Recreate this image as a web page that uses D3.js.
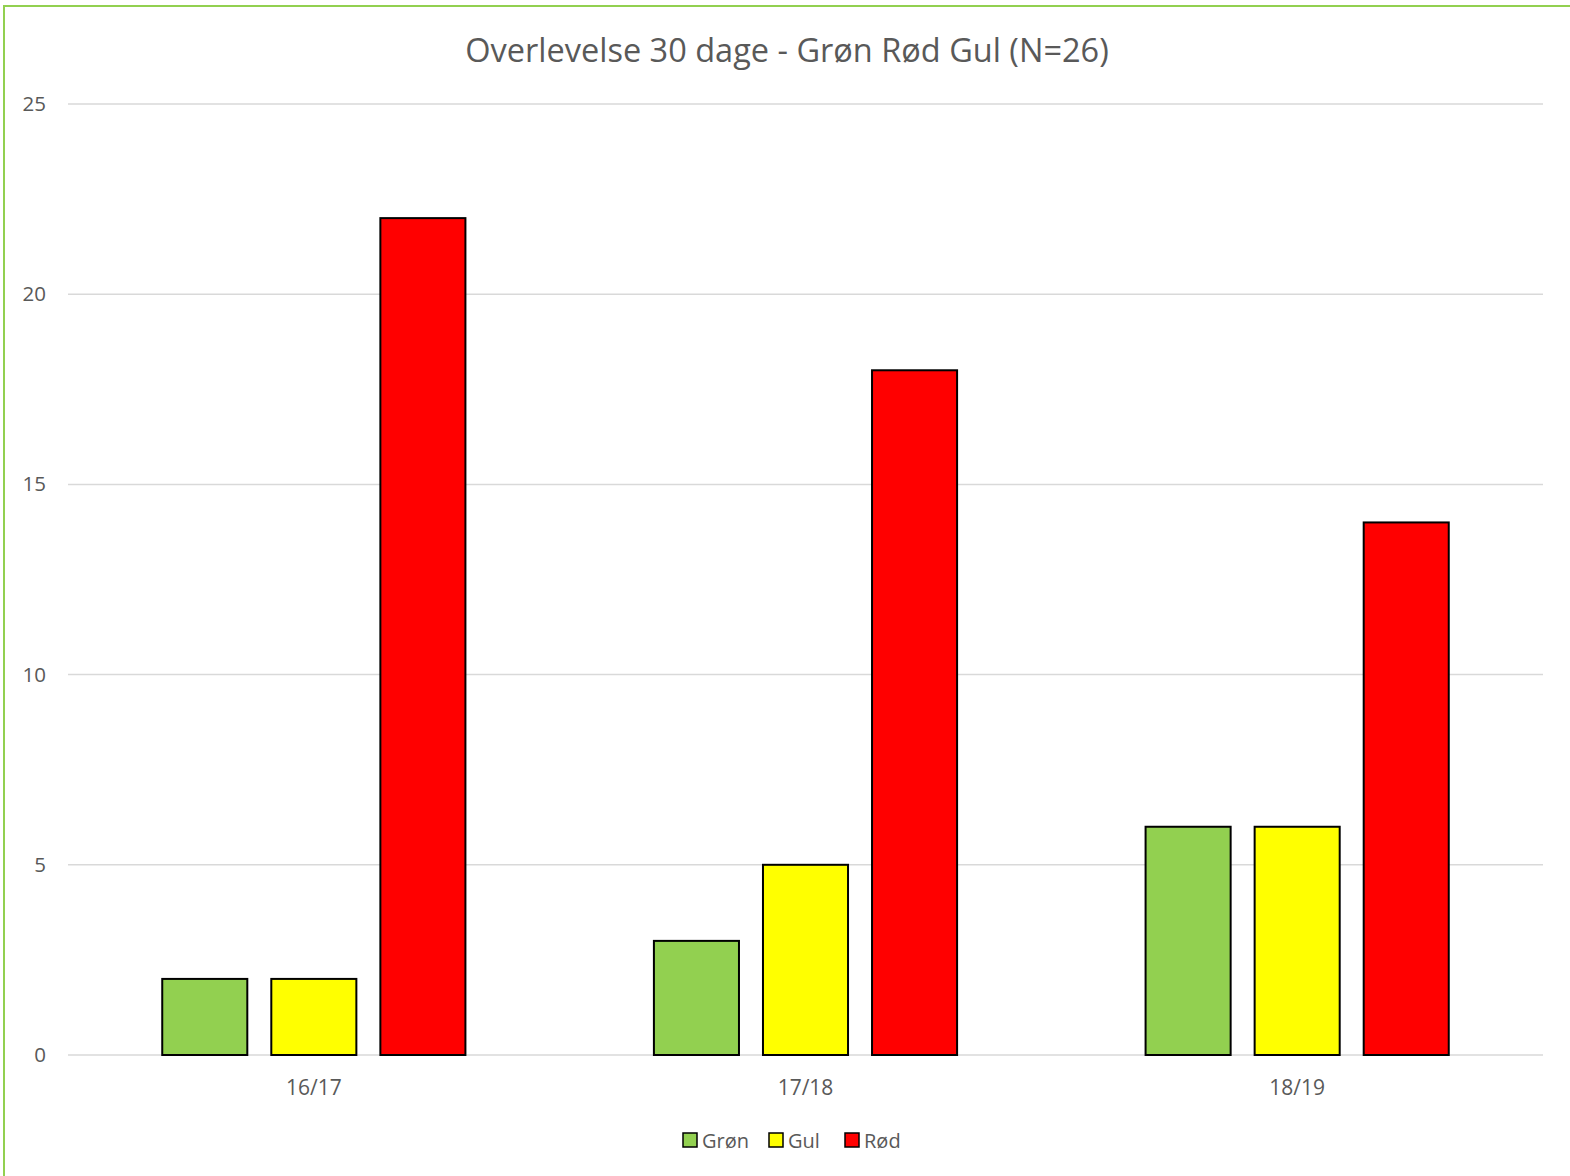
<!DOCTYPE html>
<html><head><meta charset="utf-8">
<script src="https://cdn.jsdelivr.net/npm/d3@7"></script>
<style>body{margin:0;background:#fff;} svg{display:block;}</style>
</head><body>
<script>
const categories = ["16/17", "17/18", "18/19"];
const seriesNames = ["Grøn", "Gul", "Rød"];
const gronValues = [2, 3, 6];
const gulValues = [2, 5, 6];
const rodValues = [22, 18, 14];
const yTicks = [0, 5, 10, 15, 20, 25];
const titleText = "Overlevelse 30 dage - Grøn Rød Gul (N=26)";
const seriesColors = ["#92D050", "#FFFF00", "#FF0000"];

(function () {
const W = 1570, H = 1176;
const svg = d3.select("body").append("svg").attr("width", W).attr("height", H);
const font = "'Open Sans', 'Liberation Sans', sans-serif";
const textColor = "#595959";

// border
svg.append("rect").attr("x", 4).attr("y", 6).attr("width", W + 10).attr("height", H + 10)
  .attr("fill", "none").attr("stroke", "#92D050").attr("stroke-width", 2);

const pL = 68, pR = 1543, pT = 104, pB = 1055;
const x = d3.scaleBand().domain(categories).range([pL, pR]);
const y = d3.scaleLinear().domain([0, 25]).range([pB, pT]);

// gridlines
svg.append("g").selectAll("line").data(yTicks).join("line")
  .attr("x1", pL).attr("x2", pR)
  .attr("y1", d => y(d)).attr("y2", d => y(d))
  .attr("stroke", "#D9D9D9").attr("stroke-width", 1.5);

// y axis labels
const yAxis = d3.axisLeft(y).tickValues(yTicks).tickSize(0).tickPadding(0);
const yg = svg.append("g").attr("transform", `translate(46,0)`).call(yAxis);
yg.select(".domain").remove();
yg.selectAll("text").attr("font-family", font).attr("font-size", 20.5).attr("fill", textColor);

// x axis labels
const xAxis = d3.axisBottom(x).tickSize(0).tickPadding(0);
const xg = svg.append("g").attr("transform", `translate(0,${pB + 25})`).call(xAxis);
xg.select(".domain").remove();
xg.selectAll("text").attr("font-family", font).attr("font-size", 21).attr("fill", textColor);

// bars
const series = [gronValues, gulValues, rodValues];
const barW = x.bandwidth() * 0.173;
const gap = 24;
const groupW = 3 * barW + 2 * gap;
const inner = d3.scaleBand().domain(seriesNames).range([0, groupW]).paddingInner(gap / (barW + gap));
const offset = (x.bandwidth() - groupW) / 2;
series.forEach((vals, si) => {
  svg.append("g").selectAll("rect").data(vals).join("rect")
    .attr("x", (d, i) => x(categories[i]) + offset + inner(seriesNames[si]))
    .attr("y", d => y(d))
    .attr("width", inner.bandwidth())
    .attr("height", d => y(0) - y(d))
    .attr("fill", seriesColors[si])
    .attr("stroke", "#000").attr("stroke-width", 2);
});

// title
svg.append("text").attr("x", 787).attr("y", 62).attr("text-anchor", "middle")
  .attr("font-family", font).attr("font-size", 32.5).attr("fill", textColor).text(titleText);

// legend
const legendX = [683, 769, 845];
const lg = svg.append("g");
seriesNames.forEach((n, i) => {
  lg.append("rect").attr("x", legendX[i]).attr("y", 1133).attr("width", 14).attr("height", 14)
    .attr("fill", seriesColors[i]).attr("stroke", "#000").attr("stroke-width", 1.5);
  lg.append("text").attr("x", legendX[i] + 19).attr("y", 1148)
    .attr("font-family", font).attr("font-size", 20).attr("fill", textColor).text(n);
});
})();
</script>
</body></html>
